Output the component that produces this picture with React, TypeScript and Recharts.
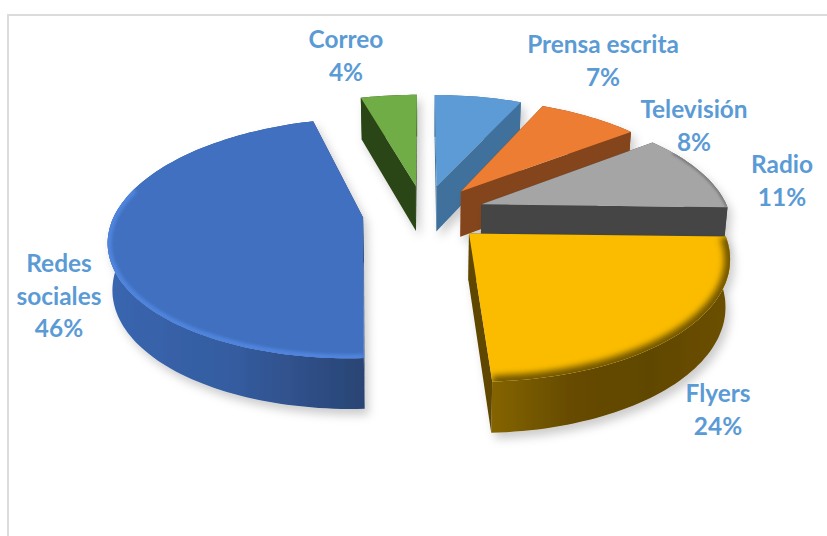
import React from "react";
import { PieChart, Pie } from "recharts";

const categories = ["Prensa escrita", "Televisión", "Radio", "Flyers", "Redes sociales", "Correo"];
const shares = [6.8, 7.8, 10.8, 23.9, 46.3, 4.4];

const topColors = ["#5b9bd5", "#ed7d31", "#a5a5a5", "#fbbc00", "#3f6fbf", "#70ad47"];
const radialColors = ["#41719c", "#84441a", "#444444", "#5f4600", "#2b4474", "#2c4518"];
const arcStops = [
  ["#41719c", "#41719c"],
  ["#84441a", "#84441a"],
  ["#555555", "#555555"],
  ["#846404", "#664b00", "#614700", "#6b5000"],
  ["#3a66b0", "#345c9f", "#2a4474"],
  ["#2c4518", "#2c4518"],
];
const rimColors = ["", "", "#6e6e6e", "#6f5400", "#4f84de", ""];
const rimWidths = [0, 0, 3, 12, 8, 0];
const labelLines = [["Prensa escrita"], ["Televisión"], ["Radio"], ["Flyers"], ["Redes", "sociales"], ["Correo"]];
const labelAnchors = [[603, 45], [694, 110], [782, 165], [718, 394], [59, 264], [346, 40]];

const WIDTH = 827;
const HEIGHT = 536;
const CENTER_X = 424;
const CENTER_Y = 213;
const RADIUS = 248;
const SQUASH = 0.464;
const PERSPECTIVE = 0.17;
const EXPLODE = 0.247;
const DEPTH = 46;
const LINE_HEIGHT = 32.7;

const rows = categories.map((name, i) => ({ name, value: shares[i] }));
const rad = (d: number) => (d * Math.PI) / 180;

function Slice3D(props: any) {
  const { cx, cy, outerRadius, startAngle, endAngle, name } = props;
  const i = categories.indexOf(name);
  const t0 = 90 - startAngle;
  const t1 = 90 - endAngle;
  const mid = (t0 + t1) / 2;
  const ox = EXPLODE * Math.sin(rad(mid));
  const oz = EXPLODE * Math.cos(rad(mid));
  const proj = (X: number, Z: number, h: number) => {
    const den = 1 + PERSPECTIVE * Z;
    const inward = 1 - (h / DEPTH) * 0.015;
    return [cx + ((outerRadius * X) / den) * inward, cy + (-outerRadius * SQUASH * Z) / den + h / Math.sqrt(den)];
  };
  const rim = (t: number, h: number) => proj(ox + Math.sin(rad(t)), oz + Math.cos(rad(t)), h);
  const steps = Math.max(6, Math.ceil((t1 - t0) / 1.5));
  const arcAt = (h: number) => {
    const pts: number[][] = [];
    for (let s = 0; s <= steps; s++) pts.push(rim(t0 + ((t1 - t0) * s) / steps, h));
    return pts;
  };
  const toPath = (pts: number[][], close = true) =>
    "M" + pts.map((p) => p[0].toFixed(1) + "," + p[1].toFixed(1)).join("L") + (close ? "Z" : "");
  const apexTop = proj(ox, oz, 0);
  const apexBottom = proj(ox, oz, DEPTH);
  const topArc = arcAt(0);
  const bottomArc = arcAt(DEPTH);
  const topPath = toPath([apexTop, ...topArc]);
  const faceA = toPath([apexTop, topArc[0], bottomArc[0], apexBottom]);
  const faceB = toPath([apexTop, topArc[steps], bottomArc[steps], apexBottom]);
  const band = toPath([...topArc, ...[...bottomArc].reverse()]);
  const xs = topArc.map((p) => p[0]);
  const stops = arcStops[i];
  const visibleRim = topArc.filter((_, s) => {
    const t = t0 + ((t1 - t0) * s) / steps;
    return t > 60 && t < 285;
  });
  return (
    <g>
      <defs>
        <linearGradient
          id={"band" + i}
          gradientUnits="userSpaceOnUse"
          x1={Math.min(...xs)}
          x2={Math.max(...xs)}
          y1={0}
          y2={0}
        >
          {stops.map((c, s) => (
            <stop key={s} offset={s / (stops.length - 1)} stopColor={c} />
          ))}
        </linearGradient>
        <clipPath id={"top" + i}>
          <path d={topPath} />
        </clipPath>
        <filter id={"shadow" + i} filterUnits="userSpaceOnUse" x={0} y={0} width={WIDTH} height={HEIGHT}>
          <feDropShadow dx={4} dy={6} stdDeviation={5} floodColor="#000000" floodOpacity={0.2} />
        </filter>
        <filter id={"soft" + i} filterUnits="userSpaceOnUse" x={0} y={0} width={WIDTH} height={HEIGHT}>
          <feGaussianBlur stdDeviation={rimWidths[i] > 10 ? 3 : 1.8} />
        </filter>
      </defs>
      <g filter={`url(#shadow${i})`}>
        <path d={band} fill={`url(#band${i})`} />
        <path d={faceA} fill={radialColors[i]} />
        <path d={faceB} fill={radialColors[i]} />
        <path d={topPath} fill={topColors[i]} />
      </g>
      {rimWidths[i] > 0 && (
        <g clipPath={`url(#top${i})`}>
          <path
            d={toPath(visibleRim, false)}
            fill="none"
            stroke={rimColors[i]}
            strokeWidth={rimWidths[i]}
            filter={`url(#soft${i})`}
          />
        </g>
      )}
    </g>
  );
}

function SliceLabel(props: any) {
  const { name, percent } = props;
  const i = categories.indexOf(name);
  const [x, y] = labelAnchors[i];
  const lines = [...labelLines[i], `${Math.round(percent * 100)}%`];
  return (
    <text
      x={x}
      y={y + 8}
      textAnchor="middle"
      fontFamily="Lato, 'Open Sans', sans-serif"
      fontWeight={700}
      fontSize={24.4}
      fill="#5b9bd5"
    >
      {lines.map((line, k) => (
        <tspan key={k} x={x} dy={k === 0 ? 0 : LINE_HEIGHT}>
          {line}
        </tspan>
      ))}
    </text>
  );
}

export default function App() {
  return (
    <div style={{ position: "absolute", left: 0, top: 0, width: WIDTH, height: HEIGHT, background: "#ffffff", overflow: "hidden" }}>
      <div
        style={{
          position: "absolute",
          left: 7,
          top: 14,
          width: WIDTH,
          height: HEIGHT,
          borderTop: "2px solid #dcdcdc",
          borderLeft: "2px solid #dcdcdc",
        }}
      />
      <div style={{ position: "absolute", left: 0, top: 0 }}>
        <PieChart width={WIDTH} height={HEIGHT} margin={{ top: 0, right: 0, bottom: 0, left: 0 }}>
          <Pie
            data={rows}
            dataKey="value"
            nameKey="name"
            cx={CENTER_X}
            cy={CENTER_Y}
            innerRadius={0}
            outerRadius={RADIUS}
            startAngle={90}
            endAngle={-270}
            paddingAngle={0}
            stroke="none"
            shape={Slice3D}
            label={SliceLabel}
            labelLine={false}
            isAnimationActive={false}
          />
        </PieChart>
      </div>
    </div>
  );
}
